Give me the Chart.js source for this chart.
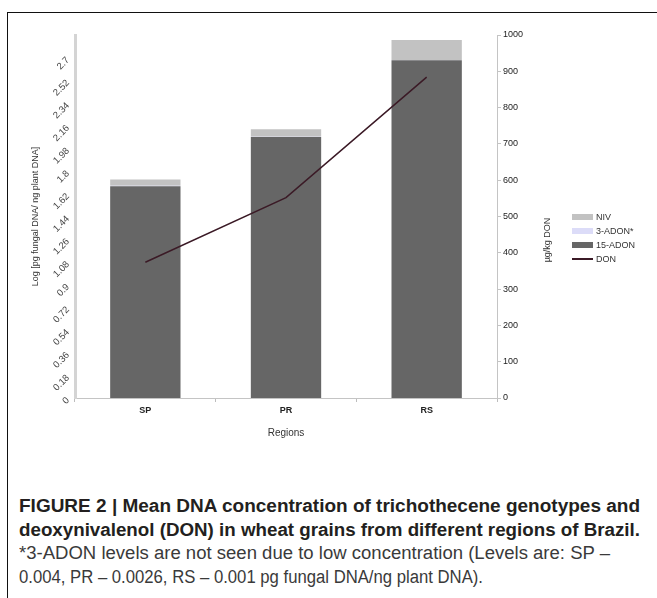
<!DOCTYPE html>
<html>
<head>
<meta charset="utf-8">
<script src="https://cdn.jsdelivr.net/npm/chart.js@4.4.1/dist/chart.umd.min.js"></script>
<style>
body{margin:0;background:#fff;width:657px;height:598px;overflow:hidden;position:relative;font-family:"Liberation Sans",Arial,sans-serif}
#frame{position:absolute;left:7px;top:12px;width:700px;height:700px;border-left:1px solid #111;border-top:1px solid #111}
#wrap{position:absolute;left:0;top:0;width:657px;height:460px}
#legend{position:absolute;left:572px;top:210px;font-size:9px;color:#333}
.item{height:14px;display:flex;align-items:center}
.sw{width:21px;margin-right:3px}
.cap{position:absolute;left:19px;white-space:nowrap;transform-origin:0 50%;font-size:18px;line-height:20px}
.b{font-weight:bold;color:#231f20}
.n{color:#3a3a3a}
</style>
</head>
<body>
<div id="frame"></div>
<div id="wrap"><canvas id="chart"></canvas></div>
<div id="legend"></div>
<div class="cap b" id="c1" style="top:496px">FIGURE 2 | Mean DNA concentration of trichothecene genotypes and</div>
<div class="cap b" id="c2" style="top:520px">deoxynivalenol (DON) in wheat grains from different regions of Brazil.</div>
<div class="cap n" id="c3" style="top:543px">*3-ADON levels are not seen due to low concentration (Levels are: SP –</div>
<div class="cap n" id="c4" style="top:567px">0.004, PR – 0.0026, RS – 0.001 pg fungal DNA/ng plant DNA).</div>
<script>
const regions = ['SP', 'PR', 'RS'];
const adon15 = [1.68, 2.07, 2.68];
const adon3 = [0.004, 0.0026, 0.001];
const niv = [0.05, 0.06, 0.16];
const don = [374, 552, 884];
const logTicks = [0, 0.18, 0.36, 0.54, 0.72, 0.9, 1.08, 1.26, 1.44, 1.62, 1.8, 1.98, 2.16, 2.34, 2.52, 2.7];
const legendOrder = ['NIV', '3-ADON*', '15-ADON', 'DON'];

// rotated labels for the left axis + right axis title
const extraText = {
    id: 'extraText',
    afterDraw(chart){
        let ctx = chart.ctx;
        let s = chart.scales.y;
        ctx.save();
        ctx.font = '9.5px "Liberation Sans"';
        ctx.fillStyle = '#444';
        ctx.textAlign = 'right';
        ctx.textBaseline = 'middle';
        for(let t of s.ticks){
            let y = s.getPixelForValue(t.value);
            ctx.save();
            ctx.translate(s.right - 7, y + 1);
            ctx.rotate(-Math.PI / 4);
            ctx.fillText(String(+t.value.toFixed(2)), 0, 0);
            ctx.restore();
        }
        ctx.font = '9px "Liberation Sans"';
        ctx.fillStyle = '#333';
        ctx.textAlign = 'center';
        ctx.translate(548, 240);
        ctx.rotate(-Math.PI / 2);
        ctx.fillText('µg/kg DON', 0, 0);
        ctx.restore();
    }
}

const chart = new Chart(
    document.getElementById('chart').getContext('2d'),
    {
        type: 'bar',
        data: {
            labels: regions,
            datasets: [
                {label: '15-ADON', data: adon15, backgroundColor: '#666666', yAxisID: 'y'},
                {label: '3-ADON*', data: adon3, backgroundColor: '#dcdcf8', yAxisID: 'y'},
                {label: 'NIV', data: niv, backgroundColor: '#c2c2c2', yAxisID: 'y'},
                {label: 'DON', type: 'line', data: don, borderColor: '#3b1a26', backgroundColor: '#3b1a26',
                 borderWidth: 1.5, pointRadius: 0, yAxisID: 'y1', order: -1}
            ]
        },
        options: {
            responsive: true,
            maintainAspectRatio: false,
            animation: false,
            layout: {padding: {top: 35, left: 0, right: 0, bottom: 0}},
            datasets: {bar: {barPercentage: 0.5, categoryPercentage: 1}},
            plugins: {legend: {display: false}, tooltip: {enabled: false}},
            scales: {
                x: {
                    stacked: true,
                    offset: true,
                    grid: {display: true, drawOnChartArea: false, offset: true, tickLength: 4, color: '#bdbdbd'},
                    border: {color: '#c4c4c4'},
                    ticks: {font: {size: 9, weight: 'bold'}, color: '#222', padding: 3},
                    title: {display: true, text: 'Regions', font: {size: 10}, color: '#333', padding: {top: 0, bottom: 21}},
                    afterFit(s){ s.height = 62 }
                },
                y: {
                    stacked: true,
                    min: 0,
                    max: 2.88,
                    grid: {display: false},
                    border: {display: true, color: '#d4d4d4', width: 3},
                    ticks: {display: false},
                    afterBuildTicks(s){ s.ticks = logTicks.map(v => ({value: v})) },
                    title: {display: true, text: 'Log [pg fungal DNA/ ng plant DNA]', font: {size: 9}, color: '#333', padding: {top: 30, bottom: 0}},
                    afterFit(s){ s.width = 75 }
                },
                y1: {
                    position: 'right',
                    min: 0,
                    max: 1000,
                    grid: {drawOnChartArea: false, tickLength: 4, color: '#c4c4c4'},
                    border: {color: '#c4c4c4'},
                    ticks: {stepSize: 100, font: {size: 9}, color: '#222', padding: 2, callback: v => String(v)},
                    afterFit(s){ s.width = 160 }
                }
            }
        },
        plugins: [extraText]
    }
)

// html legend, built from the chart's own legend items
let items = Chart.defaults.plugins.legend.labels.generateLabels(chart);
let leg = document.getElementById('legend');
for(let name of legendOrder){
    let it = items.find(x => x.text == name);
    let isLine = it.text == 'DON';
    leg.innerHTML += `<div class="item"><div class="sw" style="height:${isLine ? 2 : 6}px;background:${it.fillStyle}"></div>${it.text}</div>`;
}

// squeeze caption lines to the reference widths
const capWidths = {c1: 621, c2: 621, c3: 591, c4: 464};
for(let id in capWidths){
    let el = document.getElementById(id);
    el.style.transform = `scaleX(${capWidths[id] / el.getBoundingClientRect().width})`;
}
</script>
</body>
</html>
